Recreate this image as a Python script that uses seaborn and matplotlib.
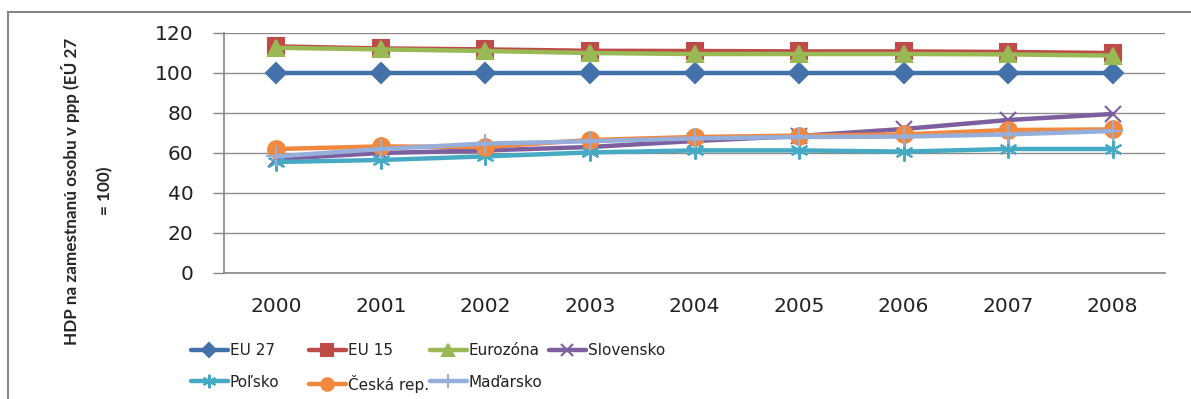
import matplotlib
matplotlib.use("Agg")
import matplotlib.pyplot as plt
import matplotlib.patches as mpatches
from matplotlib.ticker import FixedLocator
import seaborn as sns

years = [2000, 2001, 2002, 2003, 2004, 2005, 2006, 2007, 2008]
eu27 = [100, 100, 100, 100, 100, 100, 100, 100, 100]
eu15 = [113.3, 112.3, 111.8, 111.1, 111.0, 110.8, 110.8, 110.5, 110.0]
eurozona = [112.6, 111.8, 111.0, 110.0, 109.5, 109.5, 109.5, 109.3, 108.7]
slovensko = [57.0, 60.0, 61.3, 63.0, 66.0, 68.5, 72.0, 76.5, 79.5]
polsko = [55.5, 56.5, 58.3, 60.3, 61.3, 61.3, 60.7, 62.0, 62.0]
ceska = [62.0, 63.3, 63.0, 66.5, 68.0, 68.7, 69.3, 71.5, 71.8]
madarsko = [58.3, 62.0, 64.7, 65.9, 67.3, 68.0, 68.2, 69.3, 71.0]

names = ["EU 27", "EU 15", "Eurozóna", "Slovensko", "Poľsko", "Česká rep.", "Maďarsko"]
series = [eu27, eu15, eurozona, slovensko, polsko, ceska, madarsko]
colors = ["#4372AA", "#BE4B48", "#98B954", "#7D5FA0", "#46AAC5", "#F0883E", "#95AEDA"]
markers = ["D", "s", "^", "x", (6, 2, 0), "o", "+"]
msizes = [10, 11, 11, 12, 13, 12, 14]
yticks = [0, 20, 40, 60, 80, 100, 120]

sns.set_style("white")
plt.rcParams["font.family"] = ["DejaVu Sans"]

fig = plt.figure(figsize=(11.91, 3.99), dpi=100)
ax = fig.add_axes([224 / 1191, 1 - 273 / 399, (1165 - 224) / 1191, (273 - 33) / 399])

handles = []
for name, vals, c, m, ms in zip(names, series, colors, markers, msizes):
    sns.lineplot(x=years, y=vals, ax=ax, color=c, marker=m, markersize=ms,
                 mec=c, mfc=c, mew=1.5, linewidth=3.2, label=name, legend=False)
    handles.append(ax.get_lines()[-1])

ax.set_xlim(1999.5, 2008.5)
ax.set_ylim(0, 120)
ax.set_yticks(yticks)
ax.set_xticks(years)
ax.set_xticklabels([str(y) for y in years])
ax.xaxis.set_minor_locator(FixedLocator([y + 0.5 for y in [1999] + years]))
ax.tick_params(axis="x", which="major", length=0, pad=17, labelsize=14.5, colors="#222222")
ax.tick_params(axis="x", which="minor", length=6, width=1.2, color="#868686", direction="out")
ax.tick_params(axis="y", which="major", length=8, width=1.0, color="#868686", pad=14,
               labelsize=14.5, labelcolor="#222222", direction="out", left=True)
ax.grid(axis="y", color="#8c8c8c", linewidth=1.0)
ax.set_axisbelow(True)
for s in ["top", "right"]:
    ax.spines[s].set_visible(False)
for s in ["left", "bottom"]:
    ax.spines[s].set_color("#868686")
    ax.spines[s].set_linewidth(1.2)
ax.set_xlabel("")
ax.set_ylabel("")

fig.text(87 / 1191, 1 - 191 / 399, "HDP na zamestnanú osobu v ppp (EÚ 27\n= 100)",
         rotation=90, ha="center", va="center", multialignment="center",
         fontsize=12.3, fontweight="bold", family=["Lato", "DejaVu Sans"],
         linespacing=2.3)

# legend: four fixed-width columns, filled row by row
col_x = [191, 309, 430, 549]
columns = [[0, 4], [1, 5], [2, 6], [3]]
for cx, idx in zip(col_x, columns):
    leg = fig.legend([handles[i] for i in idx], [names[i] for i in idx],
                     ncol=1, loc="upper left", bbox_to_anchor=(cx / 1191, 1 - 343 / 399),
                     frameon=False, fontsize=11, handlelength=2.4, handletextpad=0.15,
                     labelspacing=1.1, borderaxespad=0, borderpad=0, markerscale=0.75)
    for t in leg.get_texts():
        t.set_color("#222222")

border = mpatches.Rectangle((8 / 1191, -0.05), 1.2, (1 - 12 / 399) + 0.05, transform=fig.transFigure,
                            fill=False, edgecolor="#868686", linewidth=1.5)
fig.patches.append(border)

fig.savefig("out.png", dpi=100)
